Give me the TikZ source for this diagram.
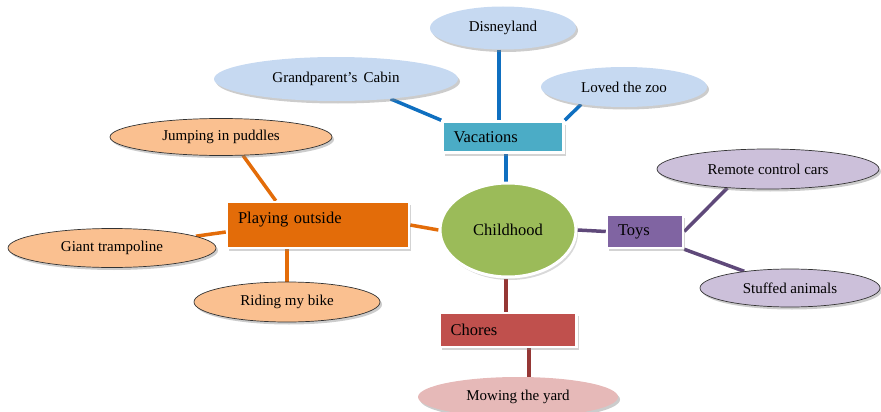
\documentclass[tikz,border=0pt]{standalone}
\usepackage{fontspec}
\setmainfont{Liberation Serif}
\usetikzlibrary{shapes.geometric,shadows,backgrounds}
\definecolor{cgreen}{HTML}{9BBB59}
\definecolor{cvac}{HTML}{4BACC6}
\definecolor{lblue}{HTML}{C6D9F1}
\definecolor{lnblue}{HTML}{0F6FC0}
\definecolor{ctoys}{HTML}{8064A2}
\definecolor{lpurple}{HTML}{CCC0DA}
\definecolor{lnpurple}{HTML}{5F497A}
\definecolor{cchores}{HTML}{C0504D}
\definecolor{lpink}{HTML}{E6B9B8}
\definecolor{lnred}{HTML}{953735}
\definecolor{cplay}{HTML}{E36C09}
\definecolor{lorange}{HTML}{FAC090}
\begin{document}
\begin{tikzpicture}[x=1pt,y=-1pt,
    bubble/.style={ellipse,inner sep=0pt,font=\fontsize{15}{18}\selectfont,
      drop shadow={shadow xshift=2pt,shadow yshift=-2.5pt,opacity=0.4}},
    rimmed/.style={draw=black!80,line width=0.7pt},
    topic/.style={rectangle,draw=white,line width=2.5pt,inner xsep=11pt,inner ysep=0pt,
      align=left,font=\fontsize{16.5}{19}\selectfont,
      drop shadow={shadow xshift=2pt,shadow yshift=-3pt,opacity=0.35}},
    link/.style={line width=3.5pt}]
  \useasboundingbox (0,0) rectangle (881,412);
  % centre
  \node[ellipse,fill=cgreen,draw=white,line width=3pt,minimum width=136pt,minimum height=94pt,
    font=\fontsize{16.5}{19}\selectfont,drop shadow={shadow xshift=2pt,shadow yshift=-3pt,opacity=0.3}]
    (child) at (508,230) {Childhood};
  % vacations
  \node[topic,fill=cvac,text width=99pt,minimum height=31pt] (vac) at (503,137) {Vacations};
  \node[bubble,fill=lblue,minimum width=146pt,minimum height=43pt] (dis) at (503,28) {Disneyland};
  \node[bubble,fill=lblue,minimum width=244pt,minimum height=44pt] (cab) at (336,79) {Grandparent’s\, Cabin};
  \node[bubble,fill=lblue,minimum width=166pt,minimum height=40pt] (zoo) at (624,87) {Loved the zoo};
  % toys
  \node[topic,fill=ctoys,text width=54pt,minimum height=33pt] (toys) at (645,231.5) {Toys};
  \node[bubble,rimmed,fill=lpurple,minimum width=222pt,minimum height=40pt] (rc) at (768,169) {Remote control cars};
  \node[bubble,rimmed,fill=lpurple,minimum width=180pt,minimum height=38pt] (sa) at (790,288) {Stuffed animals};
  % chores
  \node[topic,fill=cchores,text width=115pt,minimum height=34pt] (cho) at (508,330) {Chores};
  \node[bubble,fill=lpink,minimum width=200pt,minimum height=40pt] (mow) at (518,397) {Mowing the yard};
  % playing outside
  \node[topic,fill=cplay,text width=160pt,minimum height=46pt,text depth=14pt] (play) at (318,225) {Playing outside};
  \node[bubble,rimmed,fill=lorange,minimum width=222pt,minimum height=37pt] (jp) at (221,137) {Jumping in puddles};
  \node[bubble,rimmed,fill=lorange,minimum width=208pt,minimum height=39pt] (gt) at (112,248) {Giant trampoline};
  \node[bubble,rimmed,fill=lorange,minimum width=186pt,minimum height=40pt] (rb) at (287,302) {Riding my bike};
  % connectors
  \begin{scope}[on background layer]
    \draw[link,lnblue] ([xshift=-4pt]dis.south) -- ([xshift=-4pt]dis.south |- vac.north);
    \draw[link,lnblue] (cab.-20) -- (vac.north west);
    \draw[link,lnblue] (zoo.-158) -- (vac.north east);
    \draw[link,lnblue] ([xshift=3pt]vac.south) -- ([xshift=3pt]vac.south |- child.north);
    \draw[link,lnpurple] (child.east) -- (toys.west);
    \draw[link,lnpurple] (toys.east) -- (rc.-155);
    \draw[link,lnpurple] (toys.south east) -- (sa.160);
    \draw[link,lnred] ([xshift=-2pt]child.south) -- ([xshift=-2pt]child.south |- cho.north);
    \draw[link,lnred] ([xshift=21pt]cho.south) -- ([xshift=21pt]cho.south |- mow.north);
    \draw[link,cplay] (play.east) -- (child.west);
    \draw[link,cplay] (jp.-40) -- ([xshift=50pt]play.north west);
    \draw[link,cplay] (gt.8) -- ([yshift=-7pt]play.west);
    \draw[link,cplay] (rb.north) -- (rb.north |- play.south);
  \end{scope}
\end{tikzpicture}
\end{document}
